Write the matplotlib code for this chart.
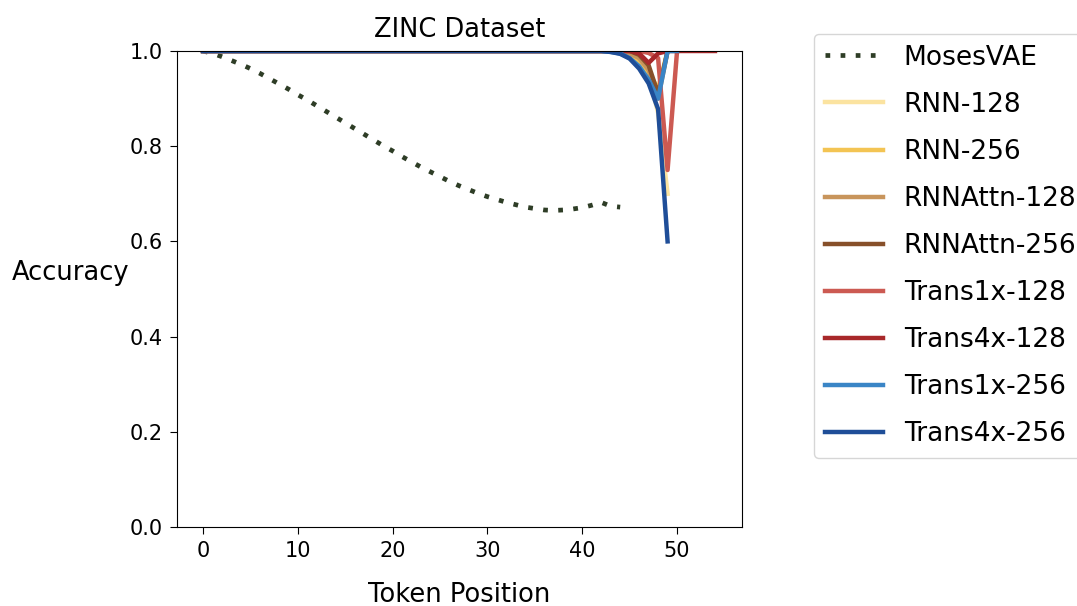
import matplotlib
matplotlib.use("Agg")
import matplotlib.pyplot as plt

# ---- data ----
moses_vae = [1.000, 0.995, 0.988, 0.980, 0.972, 0.963, 0.953, 0.942, 0.931, 0.920,
             0.908, 0.897, 0.885, 0.873, 0.861, 0.849, 0.837, 0.825, 0.813, 0.801,
             0.790, 0.778, 0.767, 0.756, 0.746, 0.736, 0.726, 0.717, 0.709, 0.701,
             0.694, 0.688, 0.682, 0.677, 0.672, 0.669, 0.666, 0.665, 0.666, 0.668,
             0.671, 0.676, 0.682, 0.674, 0.672]

rnn_128 = [1.0, 1.0, 1.0, 1.0, 1.0, 1.0, 1.0, 1.0, 1.0, 1.0,
           1.0, 1.0, 1.0, 1.0, 1.0, 1.0, 1.0, 1.0, 1.0, 1.0,
           1.0, 1.0, 1.0, 1.0, 1.0, 1.0, 1.0, 1.0, 1.0, 1.0,
           1.0, 1.0, 1.0, 1.0, 1.0, 1.0, 1.0, 1.0, 1.0, 1.0,
           1.0, 1.0, 1.0, 1.0, 0.998, 0.99, 0.975, 0.95, 0.87, 0.70]

rnn_256 = [1.0, 1.0, 1.0, 1.0, 1.0, 1.0, 1.0, 1.0, 1.0, 1.0,
           1.0, 1.0, 1.0, 1.0, 1.0, 1.0, 1.0, 1.0, 1.0, 1.0,
           1.0, 1.0, 1.0, 1.0, 1.0, 1.0, 1.0, 1.0, 1.0, 1.0,
           1.0, 1.0, 1.0, 1.0, 1.0, 1.0, 1.0, 1.0, 1.0, 1.0,
           1.0, 1.0, 1.0, 1.0, 0.998, 0.992, 0.98, 0.955, 0.92, 1.0]

rnnattn_128 = [1.0, 1.0, 1.0, 1.0, 1.0, 1.0, 1.0, 1.0, 1.0, 1.0,
               1.0, 1.0, 1.0, 1.0, 1.0, 1.0, 1.0, 1.0, 1.0, 1.0,
               1.0, 1.0, 1.0, 1.0, 1.0, 1.0, 1.0, 1.0, 1.0, 1.0,
               1.0, 1.0, 1.0, 1.0, 1.0, 1.0, 1.0, 1.0, 1.0, 1.0,
               1.0, 1.0, 1.0, 1.0, 1.0, 0.995, 0.985, 0.96, 0.90, 1.0]

rnnattn_256 = [1.0, 1.0, 1.0, 1.0, 1.0, 1.0, 1.0, 1.0, 1.0, 1.0,
               1.0, 1.0, 1.0, 1.0, 1.0, 1.0, 1.0, 1.0, 1.0, 1.0,
               1.0, 1.0, 1.0, 1.0, 1.0, 1.0, 1.0, 1.0, 1.0, 1.0,
               1.0, 1.0, 1.0, 1.0, 1.0, 1.0, 1.0, 1.0, 1.0, 1.0,
               1.0, 1.0, 1.0, 1.0, 1.0, 1.0, 0.992, 0.97, 0.91, 1.0]

trans1x_128 = [1.0, 1.0, 1.0, 1.0, 1.0, 1.0, 1.0, 1.0, 1.0, 1.0,
               1.0, 1.0, 1.0, 1.0, 1.0, 1.0, 1.0, 1.0, 1.0, 1.0,
               1.0, 1.0, 1.0, 1.0, 1.0, 1.0, 1.0, 1.0, 1.0, 1.0,
               1.0, 1.0, 1.0, 1.0, 1.0, 1.0, 1.0, 1.0, 1.0, 1.0,
               1.0, 1.0, 1.0, 1.0, 1.0, 1.0, 1.0, 0.996, 0.985, 0.75,
               1.0]

trans4x_128 = [1.0, 1.0, 1.0, 1.0, 1.0, 1.0, 1.0, 1.0, 1.0, 1.0,
               1.0, 1.0, 1.0, 1.0, 1.0, 1.0, 1.0, 1.0, 1.0, 1.0,
               1.0, 1.0, 1.0, 1.0, 1.0, 1.0, 1.0, 1.0, 1.0, 1.0,
               1.0, 1.0, 1.0, 1.0, 1.0, 1.0, 1.0, 1.0, 1.0, 1.0,
               1.0, 1.0, 1.0, 1.0, 1.0, 1.0, 0.995, 0.975, 0.995, 1.0,
               1.0, 1.0, 1.0, 1.0, 1.0]

trans1x_256 = [1.0, 1.0, 1.0, 1.0, 1.0, 1.0, 1.0, 1.0, 1.0, 1.0,
               1.0, 1.0, 1.0, 1.0, 1.0, 1.0, 1.0, 1.0, 1.0, 1.0,
               1.0, 1.0, 1.0, 1.0, 1.0, 1.0, 1.0, 1.0, 1.0, 1.0,
               1.0, 1.0, 1.0, 1.0, 1.0, 1.0, 1.0, 1.0, 1.0, 1.0,
               1.0, 1.0, 1.0, 0.998, 0.995, 0.985, 0.968, 0.94, 0.90, 1.0,
               1.0]

trans4x_256 = [1.0, 1.0, 1.0, 1.0, 1.0, 1.0, 1.0, 1.0, 1.0, 1.0,
               1.0, 1.0, 1.0, 1.0, 1.0, 1.0, 1.0, 1.0, 1.0, 1.0,
               1.0, 1.0, 1.0, 1.0, 1.0, 1.0, 1.0, 1.0, 1.0, 1.0,
               1.0, 1.0, 1.0, 1.0, 1.0, 1.0, 1.0, 1.0, 1.0, 1.0,
               1.0, 1.0, 1.0, 0.998, 0.994, 0.984, 0.963, 0.932, 0.878, 0.60]

series_names = ["MosesVAE", "RNN-128", "RNN-256", "RNNAttn-128", "RNNAttn-256",
                "Trans1x-128", "Trans4x-128", "Trans1x-256", "Trans4x-256"]
series_values = [moses_vae, rnn_128, rnn_256, rnnattn_128, rnnattn_256,
                 trans1x_128, trans4x_128, trans1x_256, trans4x_256]
series_colors = ["#2e3d26", "#fbe3a0", "#f3c453", "#c8955c", "#87502a",
                 "#cc5a52", "#a8282a", "#3a85c6", "#1f4e98"]

x_ticks = [0, 10, 20, 30, 40, 50]
y_ticks = [0.0, 0.2, 0.4, 0.6, 0.8, 1.0]

# ---- figure ----
fig = plt.figure(figsize=(10.77, 6.06), dpi=100)
ax = fig.add_axes([177 / 1077, 1 - 527 / 606, (742 - 177) / 1077, (527 - 51) / 606])

for name, vals, col in zip(series_names, series_values, series_colors):
    xs = list(range(len(vals)))
    if name == "MosesVAE":
        ax.plot(xs, vals, color=col, lw=3.4, linestyle=(0, (1, 2.2)), label=name)
    else:
        ax.plot(xs, vals, color=col, lw=3.2, label=name)

ax.set_ylim(0.0, 1.0)
ax.set_xlim(-2.75, 56.85)
ax.set_xticks(x_ticks)
ax.set_yticks(y_ticks)
ax.set_yticklabels([f"{v:.1f}" for v in y_ticks])
ax.tick_params(labelsize=15, length=5, pad=5)

ax.set_title("ZINC Dataset", fontsize=18.5, pad=10)
ax.set_xlabel("Token Position", fontsize=18.5, labelpad=15)
ax.set_ylabel("Accuracy", fontsize=18.5, rotation=0, ha="right", va="center")
ax.yaxis.set_label_coords(-0.085, 0.534)

fig.legend(loc="upper left", bbox_to_anchor=(814 / 1077, 1 - 34 / 606),
           bbox_transform=fig.transFigure, fontsize=19, handlelength=2.2,
           borderaxespad=0, labelspacing=0.8, frameon=True)

fig.savefig("out.png", dpi=100)
